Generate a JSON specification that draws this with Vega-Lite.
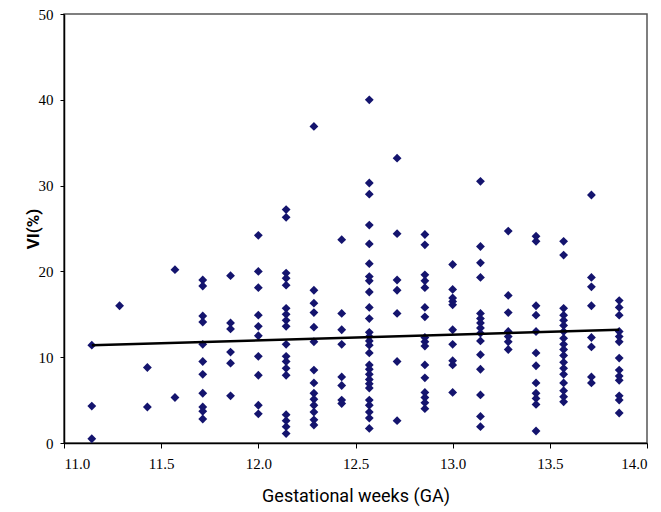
{
  "$schema": "https://vega.github.io/schema/vega-lite/v6.json",
  "width": 583,
  "height": 429,
  "autosize": {"type": "none"},
  "padding": {"left": 64, "top": 14, "right": 14, "bottom": 69},
  "background": "white",
  "config": {
    "view": {"stroke": "#555", "strokeWidth": 1.5},
    "axis": {"grid": false, "domainColor": "black", "tickColor": "black", "domainWidth": 1.5, "tickWidth": 1, "labelColor": "black", "titleColor": "black"}
  },
  "datasets": {
    "pts": [
      {"ga": 11.143, "vi": 11.4}, {"ga": 11.143, "vi": 4.3}, {"ga": 11.143, "vi": 0.5},
      {"ga": 11.286, "vi": 16.0},
      {"ga": 11.429, "vi": 8.8}, {"ga": 11.429, "vi": 4.2},
      {"ga": 11.571, "vi": 20.2}, {"ga": 11.571, "vi": 5.3},
      {"ga": 11.714, "vi": 19.0}, {"ga": 11.714, "vi": 18.3}, {"ga": 11.714, "vi": 14.8}, {"ga": 11.714, "vi": 14.1}, {"ga": 11.714, "vi": 11.5}, {"ga": 11.714, "vi": 9.5}, {"ga": 11.714, "vi": 8.0}, {"ga": 11.714, "vi": 5.8}, {"ga": 11.714, "vi": 4.2}, {"ga": 11.714, "vi": 3.7}, {"ga": 11.714, "vi": 2.8},
      {"ga": 11.857, "vi": 19.5}, {"ga": 11.857, "vi": 14.0}, {"ga": 11.857, "vi": 13.3}, {"ga": 11.857, "vi": 10.6}, {"ga": 11.857, "vi": 9.3}, {"ga": 11.857, "vi": 5.5},
      {"ga": 12.0, "vi": 24.2}, {"ga": 12.0, "vi": 20.0}, {"ga": 12.0, "vi": 18.1}, {"ga": 12.0, "vi": 14.9}, {"ga": 12.0, "vi": 13.6}, {"ga": 12.0, "vi": 12.5}, {"ga": 12.0, "vi": 10.1}, {"ga": 12.0, "vi": 7.9}, {"ga": 12.0, "vi": 4.4}, {"ga": 12.0, "vi": 3.4},
      {"ga": 12.143, "vi": 27.2}, {"ga": 12.143, "vi": 26.3}, {"ga": 12.143, "vi": 19.8}, {"ga": 12.143, "vi": 19.2}, {"ga": 12.143, "vi": 18.4}, {"ga": 12.143, "vi": 15.7}, {"ga": 12.143, "vi": 15.0}, {"ga": 12.143, "vi": 14.3}, {"ga": 12.143, "vi": 13.6}, {"ga": 12.143, "vi": 11.5}, {"ga": 12.143, "vi": 10.1}, {"ga": 12.143, "vi": 9.5}, {"ga": 12.143, "vi": 8.7}, {"ga": 12.143, "vi": 7.9}, {"ga": 12.143, "vi": 3.3}, {"ga": 12.143, "vi": 2.6}, {"ga": 12.143, "vi": 1.9}, {"ga": 12.143, "vi": 1.1},
      {"ga": 12.286, "vi": 36.9}, {"ga": 12.286, "vi": 17.8}, {"ga": 12.286, "vi": 16.3}, {"ga": 12.286, "vi": 15.2}, {"ga": 12.286, "vi": 13.5}, {"ga": 12.286, "vi": 11.8}, {"ga": 12.286, "vi": 8.5}, {"ga": 12.286, "vi": 7.0}, {"ga": 12.286, "vi": 5.8}, {"ga": 12.286, "vi": 5.1}, {"ga": 12.286, "vi": 4.4}, {"ga": 12.286, "vi": 3.6}, {"ga": 12.286, "vi": 2.7}, {"ga": 12.286, "vi": 2.1},
      {"ga": 12.429, "vi": 23.7}, {"ga": 12.429, "vi": 15.1}, {"ga": 12.429, "vi": 13.2}, {"ga": 12.429, "vi": 11.5}, {"ga": 12.429, "vi": 7.7}, {"ga": 12.429, "vi": 6.7}, {"ga": 12.429, "vi": 5.0}, {"ga": 12.429, "vi": 4.6},
      {"ga": 12.571, "vi": 40.0}, {"ga": 12.571, "vi": 30.3}, {"ga": 12.571, "vi": 29.0}, {"ga": 12.571, "vi": 25.4}, {"ga": 12.571, "vi": 23.2}, {"ga": 12.571, "vi": 20.9}, {"ga": 12.571, "vi": 19.4}, {"ga": 12.571, "vi": 18.9}, {"ga": 12.571, "vi": 17.6}, {"ga": 12.571, "vi": 15.8}, {"ga": 12.571, "vi": 14.5}, {"ga": 12.571, "vi": 12.9}, {"ga": 12.571, "vi": 12.4}, {"ga": 12.571, "vi": 11.9}, {"ga": 12.571, "vi": 11.4}, {"ga": 12.571, "vi": 10.5}, {"ga": 12.571, "vi": 9.1}, {"ga": 12.571, "vi": 8.6}, {"ga": 12.571, "vi": 8.0}, {"ga": 12.571, "vi": 7.4}, {"ga": 12.571, "vi": 6.9}, {"ga": 12.571, "vi": 6.4}, {"ga": 12.571, "vi": 5.0}, {"ga": 12.571, "vi": 4.4}, {"ga": 12.571, "vi": 3.6}, {"ga": 12.571, "vi": 2.9}, {"ga": 12.571, "vi": 1.7},
      {"ga": 12.714, "vi": 33.2}, {"ga": 12.714, "vi": 24.4}, {"ga": 12.714, "vi": 19.0}, {"ga": 12.714, "vi": 17.8}, {"ga": 12.714, "vi": 15.1}, {"ga": 12.714, "vi": 9.5}, {"ga": 12.714, "vi": 2.6},
      {"ga": 12.857, "vi": 24.3}, {"ga": 12.857, "vi": 23.1}, {"ga": 12.857, "vi": 19.6}, {"ga": 12.857, "vi": 18.9}, {"ga": 12.857, "vi": 18.1}, {"ga": 12.857, "vi": 15.8}, {"ga": 12.857, "vi": 14.7}, {"ga": 12.857, "vi": 12.3}, {"ga": 12.857, "vi": 11.8}, {"ga": 12.857, "vi": 11.3}, {"ga": 12.857, "vi": 9.1}, {"ga": 12.857, "vi": 7.6}, {"ga": 12.857, "vi": 5.9}, {"ga": 12.857, "vi": 5.3}, {"ga": 12.857, "vi": 4.7}, {"ga": 12.857, "vi": 4.0},
      {"ga": 13.0, "vi": 20.8}, {"ga": 13.0, "vi": 17.9}, {"ga": 13.0, "vi": 16.9}, {"ga": 13.0, "vi": 16.5}, {"ga": 13.0, "vi": 16.1}, {"ga": 13.0, "vi": 13.2}, {"ga": 13.0, "vi": 11.5}, {"ga": 13.0, "vi": 9.6}, {"ga": 13.0, "vi": 9.1}, {"ga": 13.0, "vi": 5.9},
      {"ga": 13.143, "vi": 30.5}, {"ga": 13.143, "vi": 22.9}, {"ga": 13.143, "vi": 21.0}, {"ga": 13.143, "vi": 19.3}, {"ga": 13.143, "vi": 15.1}, {"ga": 13.143, "vi": 14.5}, {"ga": 13.143, "vi": 14.0}, {"ga": 13.143, "vi": 13.4}, {"ga": 13.143, "vi": 12.8}, {"ga": 13.143, "vi": 11.9}, {"ga": 13.143, "vi": 10.3}, {"ga": 13.143, "vi": 8.6}, {"ga": 13.143, "vi": 5.6}, {"ga": 13.143, "vi": 3.1}, {"ga": 13.143, "vi": 1.9},
      {"ga": 13.286, "vi": 24.7}, {"ga": 13.286, "vi": 17.2}, {"ga": 13.286, "vi": 15.2}, {"ga": 13.286, "vi": 13.0}, {"ga": 13.286, "vi": 12.4}, {"ga": 13.286, "vi": 11.8}, {"ga": 13.286, "vi": 10.9},
      {"ga": 13.429, "vi": 24.1}, {"ga": 13.429, "vi": 23.5}, {"ga": 13.429, "vi": 16.0}, {"ga": 13.429, "vi": 14.9}, {"ga": 13.429, "vi": 13.0}, {"ga": 13.429, "vi": 10.5}, {"ga": 13.429, "vi": 9.0}, {"ga": 13.429, "vi": 7.0}, {"ga": 13.429, "vi": 5.8}, {"ga": 13.429, "vi": 5.2}, {"ga": 13.429, "vi": 4.5}, {"ga": 13.429, "vi": 1.4},
      {"ga": 13.571, "vi": 23.5}, {"ga": 13.571, "vi": 21.9}, {"ga": 13.571, "vi": 15.7}, {"ga": 13.571, "vi": 14.9}, {"ga": 13.571, "vi": 14.3}, {"ga": 13.571, "vi": 13.7}, {"ga": 13.571, "vi": 13.0}, {"ga": 13.571, "vi": 12.2}, {"ga": 13.571, "vi": 11.5}, {"ga": 13.571, "vi": 10.9}, {"ga": 13.571, "vi": 10.2}, {"ga": 13.571, "vi": 9.4}, {"ga": 13.571, "vi": 8.7}, {"ga": 13.571, "vi": 8.0}, {"ga": 13.571, "vi": 7.0}, {"ga": 13.571, "vi": 6.1}, {"ga": 13.571, "vi": 5.4}, {"ga": 13.571, "vi": 4.8},
      {"ga": 13.714, "vi": 28.9}, {"ga": 13.714, "vi": 19.3}, {"ga": 13.714, "vi": 18.2}, {"ga": 13.714, "vi": 16.0}, {"ga": 13.714, "vi": 12.3}, {"ga": 13.714, "vi": 11.2}, {"ga": 13.714, "vi": 7.7}, {"ga": 13.714, "vi": 7.0},
      {"ga": 13.857, "vi": 16.6}, {"ga": 13.857, "vi": 15.8}, {"ga": 13.857, "vi": 14.9}, {"ga": 13.857, "vi": 13.0}, {"ga": 13.857, "vi": 12.4}, {"ga": 13.857, "vi": 11.8}, {"ga": 13.857, "vi": 9.9}, {"ga": 13.857, "vi": 8.5}, {"ga": 13.857, "vi": 7.8}, {"ga": 13.857, "vi": 7.3}, {"ga": 13.857, "vi": 5.5}, {"ga": 13.857, "vi": 5.0}, {"ga": 13.857, "vi": 3.5}
    ],
    "trend": [
      {"ga": 11.143, "vi": 11.4},
      {"ga": 13.857, "vi": 13.2}
    ]
  },
  "layer": [
    {
      "data": {"name": "pts"},
      "mark": {"type": "point", "shape": "diamond", "filled": true, "color": "#14146e", "opacity": 1, "size": 78},
      "encoding": {
        "x": {"field": "ga", "type": "quantitative", "scale": {"domain": [11, 14], "nice": false, "zero": false},
          "axis": {"values": [11, 11.5, 12, 12.5, 13, 13.5, 14], "format": ".1f", "title": "Gestational weeks (GA)",
            "labelFont": "Liberation Serif", "labelFontSize": 15, "labelPadding": 8, "tickSize": 5,
            "titleFont": "Roboto", "titleFontSize": 18, "titleFontWeight": "normal", "titlePadding": 16}},
        "y": {"field": "vi", "type": "quantitative", "scale": {"domain": [0, 50], "nice": false},
          "axis": {"values": [0, 10, 20, 30, 40, 50], "title": "VI(%)",
            "labelFont": "Liberation Serif", "labelFontSize": 15, "labelPadding": 7, "tickSize": 4,
            "titleFont": "Roboto", "titleFontSize": 17, "titleFontWeight": "bold", "titlePadding": -4}}
      }
    },
    {
      "data": {"name": "trend"},
      "mark": {"type": "line", "color": "black", "strokeWidth": 2.5},
      "encoding": {
        "x": {"field": "ga", "type": "quantitative"},
        "y": {"field": "vi", "type": "quantitative"}
      }
    }
  ]
}
